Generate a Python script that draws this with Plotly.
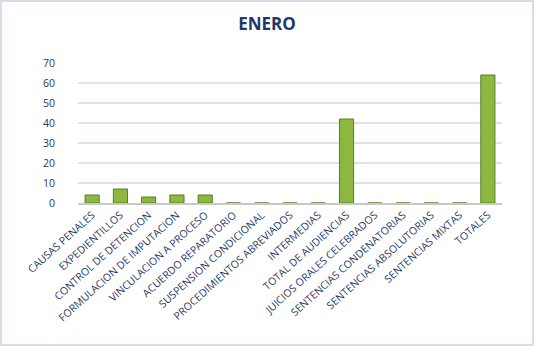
import plotly.graph_objects as go

categories = ["CAUSAS PENALES", "EXPEDIENTILLOS", "CONTROL DE DETENCION",
              "FORMULACION DE IMPUTACION", "VINCULACION A PROCESO",
              "ACUERDO REPARATORIO", "SUSPENSION CONDICIONAL",
              "PROCEDIMIENTOS ABREVIADOS", "INTERMEDIAS", "TOTAL DE AUDIENCIAS",
              "JUICIOS ORALES CELEBRADOS", "SENTENCIAS CONDENATORIAS",
              "SENTENCIAS ABSOLUTORIAS", "SENTENCIAS MIXTAS", "TOTALES"]
values = [4, 7, 3, 4, 4, 0, 0, 0, 0, 42, 0, 0, 0, 0, 64]
y_ticks = [0, 10, 20, 30, 40, 50, 60, 70]

W, H = 534, 346
L, R, T, B = 78, 32, 63, 143

fig = go.Figure()
fig.add_trace(go.Bar(
    x=categories, y=values,
    marker=dict(color="#8DB83F", line=dict(color="#5A7D22", width=1)),
    width=0.5,
))

fig.update_layout(
    width=W, height=H,
    margin=dict(l=L, r=R, t=T, b=B),
    paper_bgcolor="white", plot_bgcolor="white",
    showlegend=False,
    font=dict(family="Open Sans", color="#1F3864", size=9),
    title=dict(text="<b>ENERO</b>", x=0.5, xanchor="center", y=0.93, yanchor="middle",
               font=dict(family="Open Sans", size=17, color="#1F3864")),
    xaxis=dict(tickangle=-42, tickfont=dict(size=10.5, color="#1F3864"),
               showgrid=False, showline=True, linecolor="#C8C8C8", linewidth=2,
               ticks=""),
    yaxis=dict(range=[0, 70], tickvals=y_ticks, showgrid=True, gridcolor="#DCE3EE",
               gridwidth=1.5, zeroline=False, tickfont=dict(size=10.5, color="#1F3864"),
               ticks="", ticklen=0, ticklabelstandoff=22),
    shapes=[dict(type="rect", xref="paper", yref="paper",
                 x0=-(L - 1) / (W - L - R), x1=1 + (R - 1) / (W - L - R),
                 y0=-(B - 1) / (H - T - B), y1=1 + (T - 1) / (H - T - B),
                 line=dict(color="#D5DEE8", width=2), layer="below")],
)

fig.write_html("out.html")
